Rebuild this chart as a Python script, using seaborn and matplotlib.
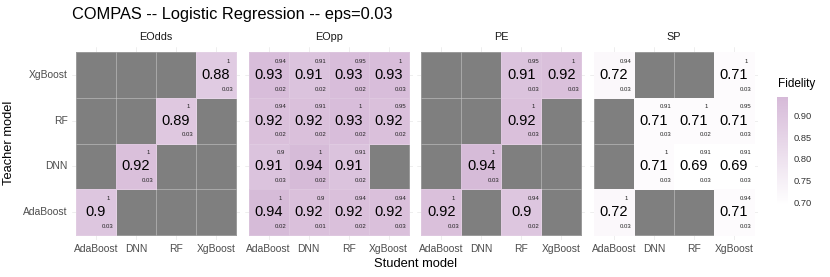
import numpy as np
import pandas as pd
import matplotlib
matplotlib.use("Agg")
import matplotlib.pyplot as plt
import seaborn as sns
from matplotlib.colors import LinearSegmentedColormap, ListedColormap, Normalize
from matplotlib.cm import ScalarMappable

sns.set_style("white")
plt.rcParams["font.family"] = ["Liberation Sans", "DejaVu Sans"]

students = ["AdaBoost", "DNN", "RF", "XgBoost"]
teachers = ["AdaBoost", "DNN", "RF", "XgBoost"]   # bottom to top
metrics = ["EOdds", "EOpp", "PE", "SP"]
N = np.nan

# rows = teacher (AdaBoost, DNN, RF, XgBoost), cols = student
eodds_fid = [[0.90, N, N, N], [N, 0.92, N, N], [N, N, 0.89, N], [N, N, N, 0.88]]
eodds_top = [[1, N, N, N], [N, 1, N, N], [N, N, 1, N], [N, N, N, 1]]
eodds_bot = [[0.03, N, N, N], [N, 0.03, N, N], [N, N, 0.03, N], [N, N, N, 0.03]]

eopp_fid = [[0.94, 0.92, 0.92, 0.92], [0.91, 0.94, 0.91, N], [0.92, 0.92, 0.93, 0.92], [0.93, 0.91, 0.93, 0.93]]
eopp_top = [[1, 0.90, 0.94, 0.94], [0.90, 1, 0.91, N], [0.94, 0.91, 1, 0.95], [0.94, 0.91, 0.95, 1]]
eopp_bot = [[0.02, 0.01, 0.02, 0.03], [0.03, 0.02, 0.02, N], [0.02, 0.02, 0.02, 0.02], [0.02, 0.02, 0.02, 0.03]]

pe_fid = [[0.92, N, 0.90, N], [N, 0.94, N, N], [N, N, 0.92, N], [N, N, 0.91, 0.92]]
pe_top = [[1, N, 0.94, N], [N, 1, N, N], [N, N, 1, N], [N, N, 0.95, 1]]
pe_bot = [[0.03, N, 0.02, N], [N, 0.03, N, N], [N, N, 0.03, N], [N, N, 0.03, 0.03]]

sp_fid = [[0.72, N, N, 0.71], [N, 0.71, 0.69, 0.69], [N, 0.71, 0.71, 0.71], [0.72, N, N, 0.71]]
sp_top = [[1, N, N, 0.94], [N, 1, 0.91, 0.91], [N, 0.91, 1, 0.95], [0.94, N, N, 1]]
sp_bot = [[0.03, N, N, 0.03], [N, 0.03, 0.03, 0.03], [N, 0.03, 0.02, 0.03], [0.03, N, N, 0.03]]

panels = {
    "EOdds": (eodds_fid, eodds_top, eodds_bot),
    "EOpp": (eopp_fid, eopp_top, eopp_bot),
    "PE": (pe_fid, pe_top, pe_bot),
    "SP": (sp_fid, sp_top, sp_bot),
}

W, H = 830, 277
fig = plt.figure(figsize=(W / 100, H / 100), dpi=100)

cmap = LinearSegmentedColormap.from_list("fid", ["#FFFFFF", "#D6BAD8"])
vmin, vmax = 0.695, 0.942
gray = ListedColormap(["#7F7F7F"])

def fmt(v):
    return f"{round(v, 2):g}"

panel_w = 168
top_px, bot_px = 47.4, 239.6
lc = (1, 1, 1, 0.12)
for i, m in enumerate(metrics):
    fid, top, bot = panels[m]
    order = teachers[::-1]  # top row first
    fdf = pd.DataFrame(np.array(fid, float)[::-1], index=order, columns=students)
    tdf = pd.DataFrame(np.array(top, float)[::-1], index=order, columns=students)
    bdf = pd.DataFrame(np.array(bot, float)[::-1], index=order, columns=students)
    left = 72 + i * 172.67
    ax = fig.add_axes([left / W, (H - bot_px) / H, panel_w / W, (bot_px - top_px) / H])
    ax.set_axisbelow(True)
    na = fdf.isna()
    sns.heatmap(na.astype(float), mask=~na, cmap=gray, cbar=False, ax=ax,
                linewidths=0.4, linecolor=lc)
    sns.heatmap(fdf, mask=na, cmap=cmap, vmin=vmin, vmax=vmax, cbar=False, ax=ax,
                linewidths=0.4, linecolor=lc)
    for r in range(4):
        for c in range(4):
            v = fdf.iloc[r, c]
            if np.isnan(v):
                continue
            ax.text(c + 0.5, r + 0.5, fmt(v), ha="center", va="center",
                    fontsize=10.5, color="black")
            ax.text(c + 0.8, r + 0.2, fmt(tdf.iloc[r, c]), ha="center", va="center",
                    fontsize=4.3, color="#222222")
            ax.text(c + 0.8, r + 0.81, fmt(bdf.iloc[r, c]), ha="center", va="center",
                    fontsize=4.3, color="#222222")
    ax.set_xlim(-0.1, 4.1)
    ax.set_ylim(4.1, -0.1)
    ax.set_xticks(np.arange(4) + 0.5)
    ax.set_xticklabels(students, rotation=0)
    ax.set_yticks(np.arange(4) + 0.5)
    if i == 0:
        ax.set_yticklabels(order, rotation=0)
    else:
        ax.set_yticklabels([])
    ax.tick_params(axis="both", length=0, labelsize=7.4, labelcolor="#4D4D4D", pad=3)
    ax.grid(True, color="#EBEBEB", linewidth=0.6)
    for s in ax.spines.values():
        s.set_visible(False)
    ax.set_xlabel("")
    ax.set_ylabel("")
    fig.text((left + panel_w / 2) / W, 1 - 37 / H, m, ha="center", va="center",
             fontsize=7.8, color="#1A1A1A")

fig.text(72 / W, 1 - 14 / H, "COMPAS -- Logistic Regression -- eps=0.03",
         ha="left", va="center", fontsize=11.8, color="black")
fig.text(415 / W, 1 - 264 / H, "Student model", ha="center", va="center",
         fontsize=9.3, color="black")
fig.text(9 / W, 1 - 143 / H, "Teacher model", ha="center", va="center",
         fontsize=9.3, color="black", rotation=90)

# legend colorbar
cax = fig.add_axes([777 / W, (H - 205) / H, 11 / W, 108.3 / H])
sm = ScalarMappable(norm=Normalize(vmin, vmax), cmap=cmap)
cb = fig.colorbar(sm, cax=cax, ticks=[0.70, 0.75, 0.80, 0.85, 0.90])
cb.outline.set_visible(False)
cb.ax.set_yticklabels(["0.70", "0.75", "0.80", "0.85", "0.90"])
cb.ax.tick_params(length=0, labelsize=6.7, labelcolor="#333333", pad=4)
fig.text(778 / W, 1 - 84 / H, "Fidelity", ha="left", va="center", fontsize=8.5,
         color="black")

fig.savefig("out.png", dpi=100)
